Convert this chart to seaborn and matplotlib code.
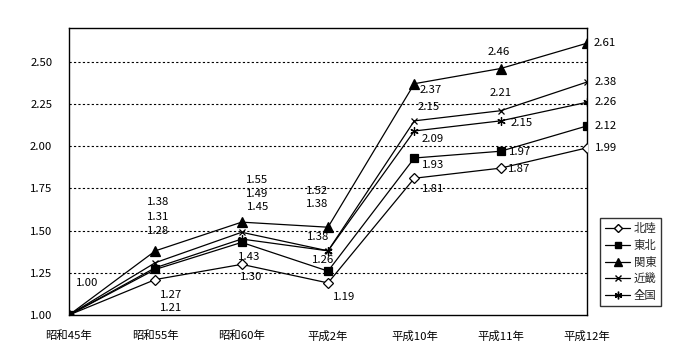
import numpy as np
import pandas as pd
import matplotlib
matplotlib.use("Agg")
import matplotlib.pyplot as plt
import seaborn as sns
from matplotlib.lines import Line2D

# ── data ──────────────────────────────────────────────
years = ["昭和45年", "昭和55年", "昭和60年", "平成2年", "平成10年", "平成11年", "平成12年"]
regions = ["北陸", "東北", "関東", "近畿", "全国"]

hokuriku = [1.00, 1.21, 1.30, 1.19, 1.81, 1.87, 1.99]
tohoku   = [1.00, 1.27, 1.43, 1.26, 1.93, 1.97, 2.12]
kanto    = [1.00, 1.38, 1.55, 1.52, 2.37, 2.46, 2.61]
kinki    = [1.00, 1.31, 1.49, 1.38, 2.15, 2.21, 2.38]
zenkoku  = [1.00, 1.28, 1.45, 1.38, 2.09, 2.15, 2.26]

yticks = [1.00, 1.25, 1.50, 1.75, 2.00, 2.25, 2.50]

series = {"北陸": hokuriku, "東北": tohoku, "関東": kanto, "近畿": kinki, "全国": zenkoku}

df = pd.DataFrame([
    {"地域": r, "年": years[i], "x": i, "値": v}
    for r in regions for i, v in enumerate(series[r])
])

# ── style ─────────────────────────────────────────────
sns.set_style("white")
plt.rcParams["font.family"] = ["Noto Sans CJK JP", "DejaVu Sans"]
FS = 8.2

markers = {"北陸": "D", "東北": "s", "関東": "^", "近畿": "x", "全国": (6, 2, 0)}
msize   = {"北陸": 4.8, "東北": 5.5, "関東": 6.5, "近畿": 5, "全国": 6}

# label offsets (pixels, +x right, +y up); None = no label
offsets = {
    "北陸": [(18, 32), (16, -28), (10, -13), (16, -14), (19, -11), (19, -1), (19, 0)],
    "東北": [None, (16, -26), (8, -15), (-5, 11), (19, -7), (19, -1), (19, 0)],
    "関東": [None, (3, 49), (15, 42), (-11, 36), (16, -6), (-2, 17), (18, 0)],
    "近畿": [None, (3, 46), (15, 38), (-11, 47), (14, 14), (0, 18), (19, 0)],
    "全国": [None, (3, 37), (16, 32), (-10, 14), (18, -8), (21, -2), (19, 0)],
}

fig = plt.figure(figsize=(7.0, 3.6), dpi=100)
ax = fig.add_axes([69 / 700, 45 / 360, 518 / 700, 287 / 360])

for r in regions:
    sub = df[df["地域"] == r]
    m = markers[r]
    sns.lineplot(
        data=sub, x="x", y="値", ax=ax, color="black", linewidth=0.9,
        marker=m, markersize=msize[r],
        markerfacecolor=("white" if r == "北陸" else "black"),
        markeredgecolor="black", markeredgewidth=0.9,
        legend=False, zorder=3,
    )
    for i, (xv, yv) in enumerate(zip(sub["x"], sub["値"])):
        off = offsets[r][i]
        if off is None:
            continue
        ax.annotate(f"{yv:.2f}", (xv, yv), xytext=off, textcoords="offset pixels",
                    ha="center", va="center", fontsize=FS, color="black")

ax.set_xlim(0, len(years) - 1)
ax.set_ylim(1.0, 2.70)
ax.set_xticks(range(len(years)))
ax.set_xticklabels(years, fontsize=FS)
ax.set_yticks(yticks)
ax.set_yticklabels([f"{t:.2f}" for t in yticks], fontsize=FS)
ax.set_xlabel("")
ax.set_ylabel("")
ax.tick_params(axis="y", direction="out", length=4, width=0.9, pad=8, colors="black")
ax.tick_params(axis="x", direction="inout", length=6, width=0.9, pad=8, colors="black")
for y in yticks[1:]:
    ax.axhline(y, color="black", linewidth=0.8, linestyle=(0, (2, 2)), zorder=1)
for s in ax.spines.values():
    s.set_color("black")
    s.set_linewidth(1.0)

handles = [
    Line2D([], [], color="black", linewidth=0.9, marker=markers[r], markersize=msize[r] - 0.5,
           markerfacecolor=("white" if r == "北陸" else "black"), markeredgecolor="black")
    for r in regions
]
leg = fig.legend(handles, regions, loc="upper left",
                 bbox_to_anchor=(600 / 700, 1 - 218 / 360), bbox_transform=fig.transFigure,
                 fontsize=FS, frameon=True, fancybox=False, edgecolor="black",
                 borderaxespad=0, handlelength=2.2, handletextpad=0.3,
                 labelspacing=0.5, borderpad=0.45)
leg.get_frame().set_linewidth(1.0)

fig.savefig("out.png", dpi=100, facecolor="white")
